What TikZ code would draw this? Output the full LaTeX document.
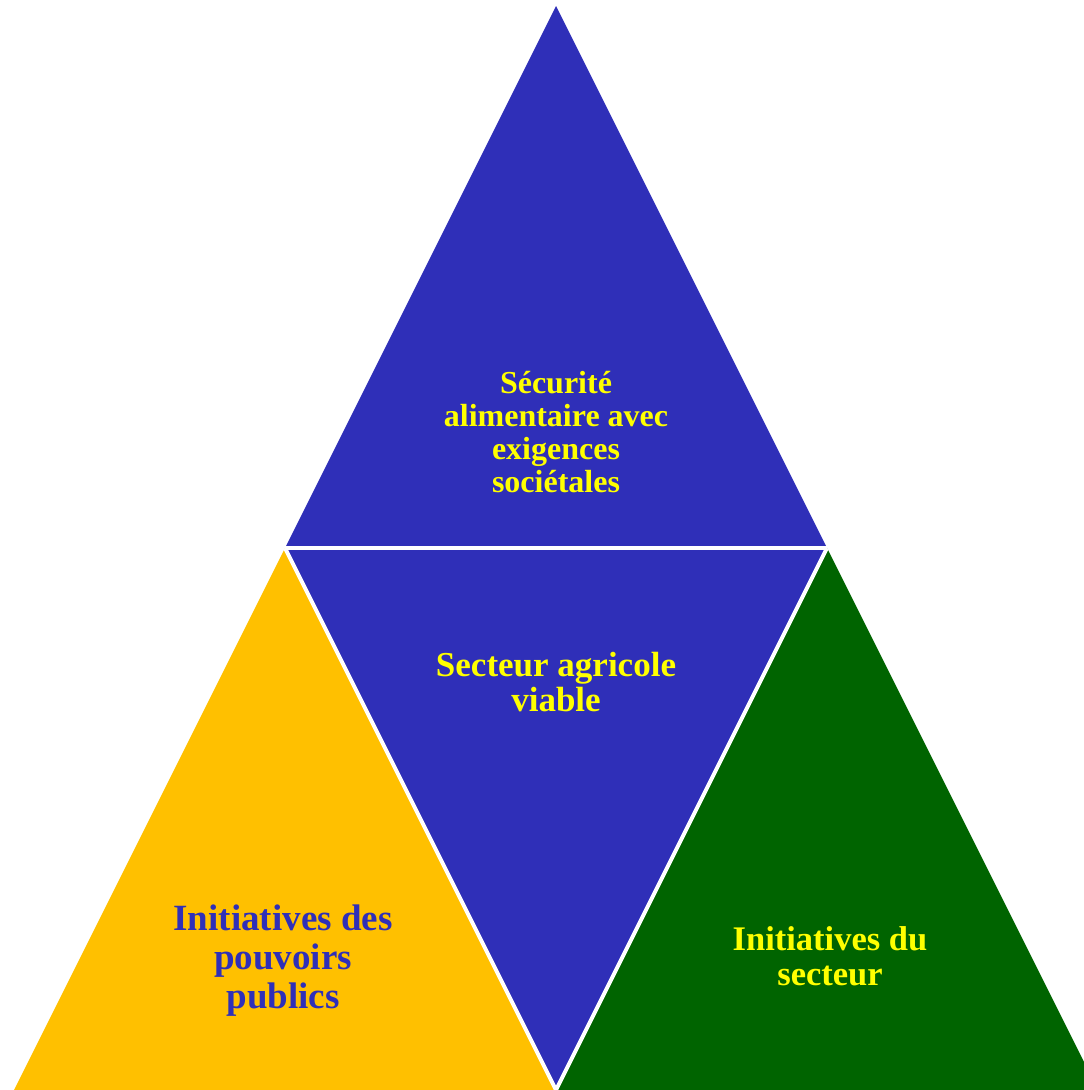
\documentclass[tikz,border=0pt]{standalone}
\usepackage{fontspec}
\setmainfont{Liberation Serif}
\definecolor{triblue}{HTML}{2F2FB8}
\definecolor{triyellow}{HTML}{FFC000}
\definecolor{trigreen}{HTML}{006400}
\definecolor{txtyellow}{HTML}{FFFF00}
\begin{document}
\begin{tikzpicture}[x=1pt,y=-1pt,
  part/.style={draw=white,line width=4pt,line join=miter},
  lbl/.style={align=center,inner sep=0pt}]
\useasboundingbox (0,0) rectangle (1084,1090);
\begin{scope}
\clip (0,0) rectangle (1084,1090);
\coordinate (T) at (556,6);
\coordinate (L) at (285,548);
\coordinate (R) at (827,548);
\coordinate (M) at (556,1090);
\coordinate (BL) at (14,1090);
\coordinate (BR) at (1098,1090);
\fill[triblue] (T) -- (L) -- (R) -- cycle;
\fill[triblue] (L) -- (R) -- (M) -- cycle;
\fill[triyellow] (L) -- (BL) -- (M) -- cycle;
\fill[trigreen] (R) -- (M) -- (BR) -- cycle;
\draw[part] (L) -- (R);
\draw[part] (L) -- (M) -- (R);
\end{scope}
\node[lbl,text=txtyellow,font=\bfseries\fontsize{32}{33}\selectfont] (top) at (556,432) {Sécurité\\alimentaire avec\\exigences\\sociétales};
\node[lbl,text=txtyellow,font=\bfseries\fontsize{35}{35}\selectfont] (mid) at (556,682) {Secteur agricole\\viable};
\node[lbl,text=triblue,font=\bfseries\fontsize{37}{39}\selectfont] (left) at (283,961) {Initiatives des\\pouvoirs\\publics};
\node[lbl,text=txtyellow,font=\bfseries\fontsize{34.5}{35}\selectfont] (right) at (830,956) {Initiatives du\\secteur};
\end{tikzpicture}
\end{document}
